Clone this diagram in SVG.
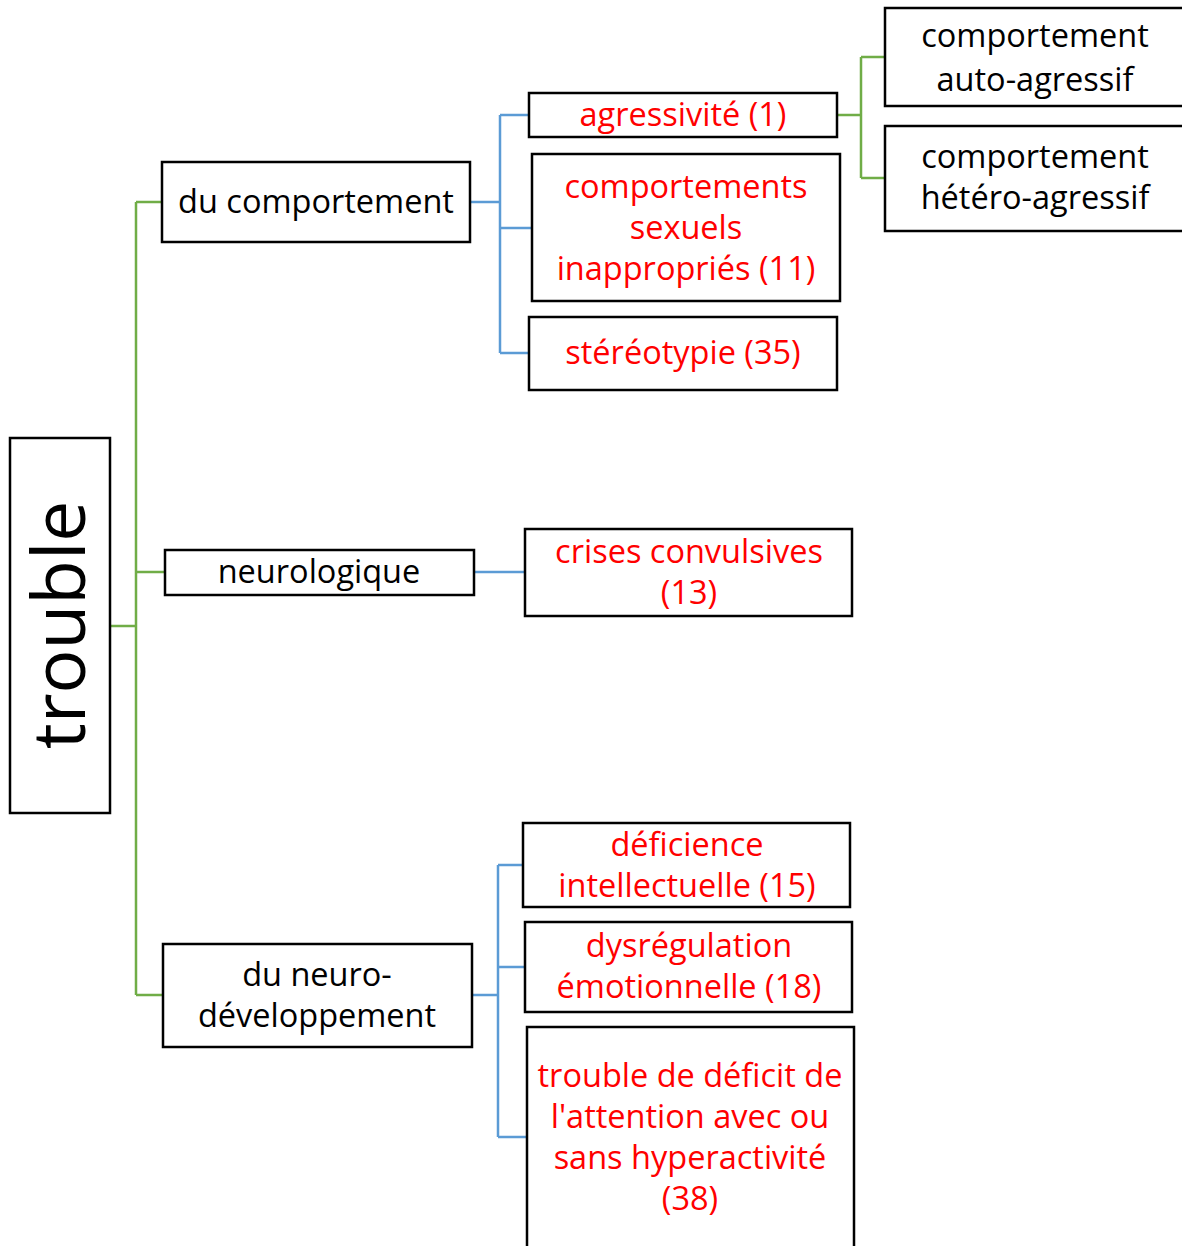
<svg xmlns="http://www.w3.org/2000/svg" width="1182" height="1246" viewBox="0 0 1182 1246">
  <style>
    .box { fill: #ffffff; stroke: #000000; stroke-width: 2.5; }
    .lbl { font-family: "Open Sans", "DejaVu Sans", sans-serif; font-size: 32.5px; text-anchor: middle; }
    .blk { fill: #000000; }
    .red { fill: #ff0000; }
    .g { fill: none; stroke: #70ad47; stroke-width: 2.5; }
    .b { fill: none; stroke: #5b9bd5; stroke-width: 2.5; }
  </style>
  <rect width="1182" height="1246" fill="#ffffff"/>

  <!-- connectors -->
  <g id="connectors">
    <path class="g" d="M110 626 H136 M136 202 V995 M136 202 H162 M136 572 H165 M136 995 H163"/>
    <path class="b" d="M470 202 H500 M500 115 V353 M500 115 H529 M500 228 H532 M500 353 H529"/>
    <path class="g" d="M837 115 H861 M861 57 V178 M861 57 H885 M861 178 H885"/>
    <path class="b" d="M474 572 H525"/>
    <path class="b" d="M472 995 H498 M498 865 V1137 M498 865 H523 M498 967 H525 M498 1137 H527"/>
  </g>

  <!-- root -->
  <g id="trouble">
    <rect class="box" x="10" y="438" width="100" height="375"/>
    <text class="blk" transform="translate(85,625) rotate(-90)" x="0" y="0" text-anchor="middle" font-family="Open Sans, DejaVu Sans, sans-serif" font-size="73">trouble</text>
  </g>

  <!-- level 1 -->
  <g id="du-comportement">
    <rect class="box" x="162" y="162" width="308" height="80"/>
    <text class="lbl blk" x="316" y="213">du comportement</text>
  </g>
  <g id="neurologique">
    <rect class="box" x="165" y="550" width="309" height="45"/>
    <text class="lbl blk" x="319" y="583">neurologique</text>
  </g>
  <g id="du-neuro-developpement">
    <rect class="box" x="163" y="944" width="309" height="103"/>
    <text class="lbl blk" x="317" y="986">du neuro-</text>
    <text class="lbl blk" x="317" y="1027">développement</text>
  </g>

  <!-- level 2: comportement -->
  <g id="agressivite">
    <rect class="box" x="529" y="93" width="308" height="44"/>
    <text class="lbl red" x="683" y="126">agressivité (1)</text>
  </g>
  <g id="comportements-sexuels">
    <rect class="box" x="532" y="154" width="308" height="147"/>
    <text class="lbl red" x="686" y="198">comportements</text>
    <text class="lbl red" x="686" y="239">sexuels</text>
    <text class="lbl red" x="686" y="280">inappropriés (11)</text>
  </g>
  <g id="stereotypie">
    <rect class="box" x="529" y="317" width="308" height="73"/>
    <text class="lbl red" x="683" y="364">stéréotypie (35)</text>
  </g>

  <!-- level 3: agressivité -->
  <g id="auto-agressif">
    <rect class="box" x="885" y="8" width="310" height="98"/>
    <text class="lbl blk" x="1035" y="47">comportement</text>
    <text class="lbl blk" x="1035" y="91">auto-agressif</text>
  </g>
  <g id="hetero-agressif">
    <rect class="box" x="885" y="126" width="310" height="105"/>
    <text class="lbl blk" x="1035" y="168">comportement</text>
    <text class="lbl blk" x="1035" y="209">hétéro-agressif</text>
  </g>

  <!-- level 2: neurologique -->
  <g id="crises-convulsives">
    <rect class="box" x="525" y="529" width="327" height="87"/>
    <text class="lbl red" x="689" y="563">crises convulsives</text>
    <text class="lbl red" x="689" y="604">(13)</text>
  </g>

  <!-- level 2: neuro-développement -->
  <g id="deficience-intellectuelle">
    <rect class="box" x="523" y="823" width="327" height="84"/>
    <text class="lbl red" x="687" y="856">déficience</text>
    <text class="lbl red" x="687" y="897">intellectuelle (15)</text>
  </g>
  <g id="dysregulation">
    <rect class="box" x="525" y="922" width="327" height="90"/>
    <text class="lbl red" x="689" y="957">dysrégulation</text>
    <text class="lbl red" x="689" y="998">émotionnelle (18)</text>
  </g>
  <g id="tdah">
    <rect class="box" x="527" y="1027" width="327" height="240"/>
    <text class="lbl red" x="690" y="1087">trouble de déficit de</text>
    <text class="lbl red" x="690" y="1128">l'attention avec ou</text>
    <text class="lbl red" x="690" y="1169">sans hyperactivité</text>
    <text class="lbl red" x="690" y="1210">(38)</text>
  </g>
</svg>
